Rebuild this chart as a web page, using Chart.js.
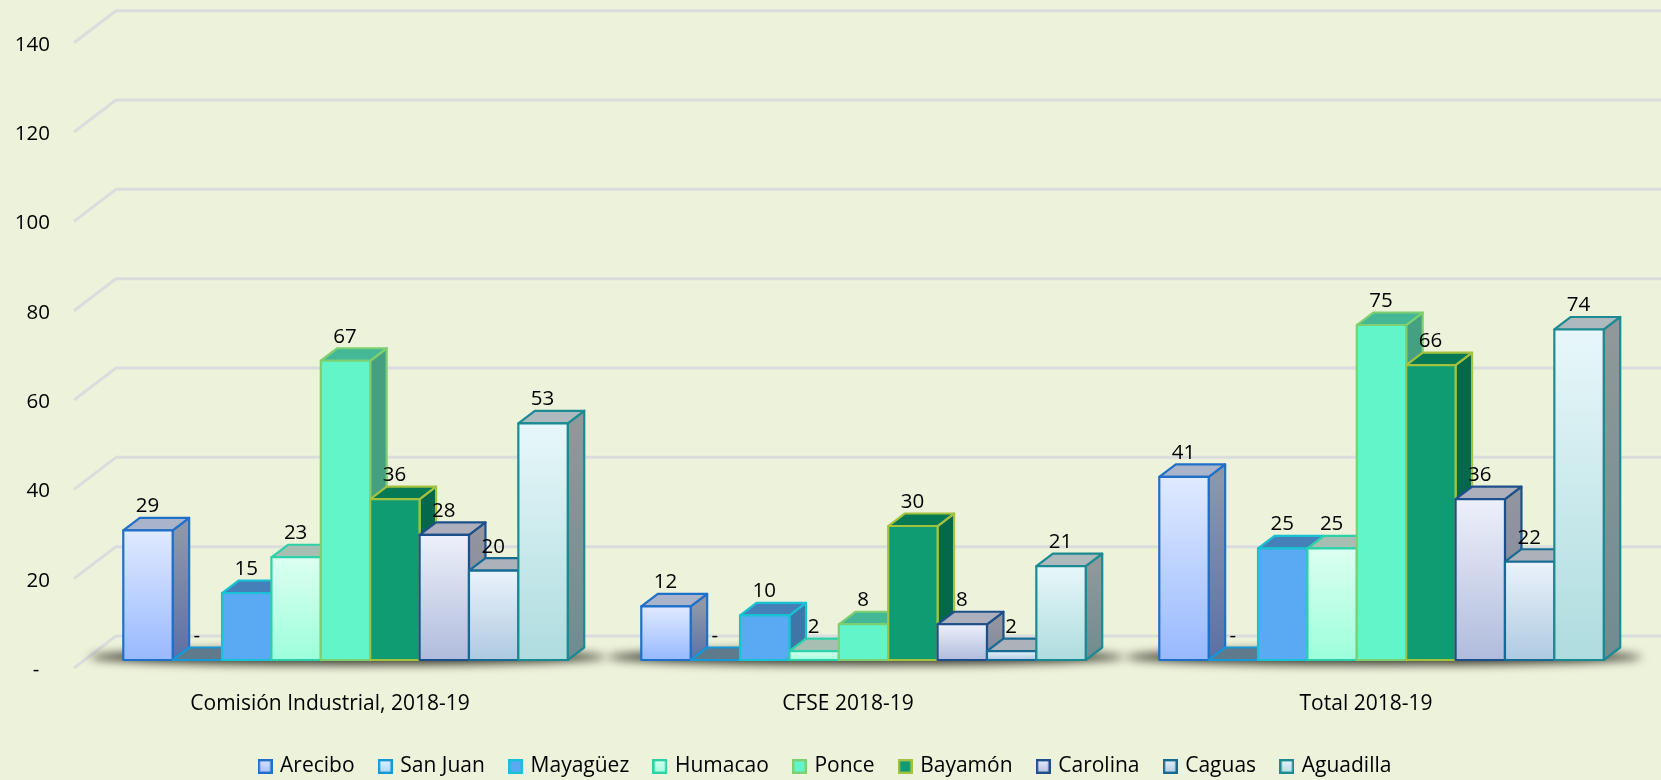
<!DOCTYPE html>
<html>
<head>
<meta charset="utf-8">
<style>
html,body{margin:0;padding:0;background:#edf2da;overflow:hidden}
#wrap{width:1661px;height:780px;position:relative}
canvas{filter:blur(0.5px)}
</style>
<script src="https://cdn.jsdelivr.net/npm/chart.js@4/dist/chart.umd.min.js"></script>
</head>
<body>
<div id="wrap"><canvas id="c" width="1661" height="780"></canvas></div>
<script>
const categories = ['Comisión Industrial, 2018-19', 'CFSE 2018-19', 'Total 2018-19'];
const seriesNames = ['Arecibo','San Juan','Mayagüez','Humacao','Ponce','Bayamón','Carolina','Caguas','Aguadilla'];
const arecibo  = [29, 12, 41];
const sanJuan  = [0, 0, 0];
const mayaguez = [15, 10, 25];
const humacao  = [23, 2, 25];
const ponce    = [67, 8, 75];
const bayamon  = [36, 30, 66];
const carolina = [28, 8, 36];
const caguas   = [20, 2, 22];
const aguadilla= [53, 21, 74];
const seriesValues = [arecibo, sanJuan, mayaguez, humacao, ponce, bayamon, carolina, caguas, aguadilla];

const FONT = '"Open Sans", sans-serif';
const FS = 21, FS_NUM = 20.5;
const looks = [
 {a:'#e0eaff',b:'#98b9ff',line:'#1f70c8',top:'#a9b3c9',s1:'#8e97a8',s2:'#5b70a6',lg1:'#dbe4ff',lg2:'#a3bdfa'},
 {a:'#e2f3ff',b:'#a4d8fb',line:'#1597d8',top:'#5f7a8a',s1:'#6a8294',s2:'#4d6f8a',lg1:'#e2f3ff',lg2:'#a4d8fb'},
 {a:'#5aa9f3',b:'#5aa9f3',line:'#16c2d4',top:'#4580b8',s1:'#3f76a8',s2:'#3f76a8',lg1:'#5aa9f3',lg2:'#5aa9f3'},
 {a:'#dcfff1',b:'#9cffdc',line:'#2bd2a8',top:'#a6bfb2',s1:'#8fa89e',s2:'#7a9a8c',lg1:'#dcfff1',lg2:'#9cffdc'},
 {a:'#62f5c9',b:'#62f5c9',line:'#7ecf70',top:'#44b896',s1:'#44a081',s2:'#44a081',lg1:'#62f5c9',lg2:'#62f5c9'},
 {a:'#0f9c73',b:'#0f9c73',line:'#a3c23e',top:'#067a55',s1:'#05684a',s2:'#05684a',lg1:'#0f9c73',lg2:'#0f9c73'},
 {a:'#edf0fa',b:'#b0bcdc',line:'#1d4f8a',top:'#adb0bc',s1:'#92959f',s2:'#80869a',lg1:'#edf0fa',lg2:'#b0bcdc'},
 {a:'#ebf2fb',b:'#aecae1',line:'#166b95',top:'#adb1ba',s1:'#92979f',s2:'#80909c',lg1:'#ebf2fb',lg2:'#aecae1'},
 {a:'#e8f7f9',b:'#aedcdf',line:'#1c8a92',top:'#adb9bc',s1:'#90989a',s2:'#6f8c90',lg1:'#e8f7f9',lg2:'#aedcdf'}
];

/* depth of the floor and of the bars, in pixels */
const GRID_DX = 42, GRID_DY = -32;
const BAR_SHIFT_X = 12.5, BAR_SHIFT_Y = -8;
const DEPTH_X = 16.5, DEPTH_Y = -12.5;

function legendSwatch(l){
  const cv = document.createElement('canvas'); cv.width = 15; cv.height = 15;
  const g = cv.getContext('2d');
  const gr = g.createLinearGradient(0,0,0,15);
  gr.addColorStop(0,l.lg1); gr.addColorStop(1,l.lg2);
  g.fillStyle = gr; g.fillRect(0,0,15,15);
  g.strokeStyle = l.line; g.lineWidth = 2.4; g.strokeRect(1.2,1.2,12.6,12.6);
  return cv;
}

function poly(ctx, pts, fill, line){
  ctx.beginPath();
  pts.forEach((p,i)=> i?ctx.lineTo(p[0],p[1]):ctx.moveTo(p[0],p[1]));
  ctx.closePath();
  ctx.fillStyle = fill; ctx.fill();
  ctx.strokeStyle = line; ctx.stroke();
}

const scene = {
  id:'scene',
  afterLayout(chart){
    const lg = chart.legend;
    const h = lg.height;
    lg.top = 770 - 14 - lg.options.labels.padding;
    lg.bottom = lg.top + h;
    lg.left = 0; lg.right = 1652;
  },
  beforeDatasetsDraw(chart){
    const {ctx, scales:{x,y}} = chart;
    const edge = chart.width;
    ctx.save();
    ctx.strokeStyle = '#d9dddd'; ctx.lineWidth = 3; ctx.lineJoin='round';
    y.ticks.forEach(t=>{
      const py = y.getPixelForValue(t.value);
      ctx.beginPath();
      ctx.moveTo(x.left, py);
      ctx.lineTo(x.left + GRID_DX, py + GRID_DY);
      ctx.lineTo(edge, py + GRID_DY);
      ctx.stroke();
    });
    /* soft shadow under each cluster */
    const first = chart.getDatasetMeta(0).data, last = chart.getDatasetMeta(seriesNames.length-1).data;
    first.forEach((el,i)=>{
      const l = el.x - el.width/2 + BAR_SHIFT_X - 34;
      const r = last[i].x + last[i].width/2 + BAR_SHIFT_X + 38;
      const b = el.base + BAR_SHIFT_Y;
      ctx.save();
      ctx.filter = 'blur(5px)';
      ctx.fillStyle = 'rgba(50,50,38,0.95)';
      ctx.beginPath();
      ctx.ellipse((l+r)/2, b-3, (r-l)/2, 8, 0, 0, Math.PI*2);
      ctx.fill();
      ctx.restore();
    });
    ctx.restore();
  },
  beforeDatasetDraw(){ return false; },
  afterDatasetsDraw(chart){
    const {ctx} = chart;
    ctx.save();
    ctx.lineWidth = 2.2; ctx.lineJoin = 'round';
    /* painted left to right so each bar covers its neighbour's side */
    seriesNames.forEach((n, d)=>{
      const look = looks[d];
      chart.getDatasetMeta(d).data.forEach(el=>{
        const x0 = el.x - el.width/2 + BAR_SHIFT_X, x1 = x0 + el.width;
        const yt = el.y + BAR_SHIFT_Y, yb = el.base + BAR_SHIFT_Y;
        const side = ctx.createLinearGradient(0, yt, 0, yb);
        side.addColorStop(0, look.s1); side.addColorStop(1, look.s2);
        poly(ctx, [[x1,yt],[x1+DEPTH_X,yt+DEPTH_Y],[x1+DEPTH_X,yb+DEPTH_Y],[x1,yb]], side, look.line);
        poly(ctx, [[x0,yt],[x0+DEPTH_X,yt+DEPTH_Y],[x1+DEPTH_X,yt+DEPTH_Y],[x1,yt]], look.top, look.line);
        if (yb - yt > 0.5){
          const face = ctx.createLinearGradient(0, yt, 0, yb);
          face.addColorStop(0, look.a); face.addColorStop(1, look.b);
          poly(ctx, [[x0,yt],[x1,yt],[x1,yb],[x0,yb]], face, look.line);
        }
      });
    });
    ctx.font = FS_NUM + 'px ' + FONT;
    ctx.fillStyle = '#000';
    ctx.textAlign = 'center'; ctx.textBaseline = 'middle';
    seriesValues.forEach((vals, d)=>{
      chart.getDatasetMeta(d).data.forEach((el,i)=>{
        const txt = vals[i] === 0 ? '-' : String(vals[i]);
        ctx.fillText(txt, el.x + BAR_SHIFT_X - 0.5, el.y + BAR_SHIFT_Y - 24);
      });
    });
    ctx.restore();
  }
};

new Chart(document.getElementById('c'), {
  type:'bar',
  data:{
    labels: categories,
    datasets: seriesNames.map((name,i)=>({
      label:name,
      data: seriesValues[i],
      backgroundColor: looks[i].b,
      borderColor: looks[i].line,
      categoryPercentage: 0.858,
      barPercentage: 1
    }))
  },
  options:{
    responsive:false,
    animation:false,
    layout:{padding:{left:0,right:33,top:42.7,bottom:0}},
    scales:{
      x:{
        grid:{display:false,drawTicks:false},
        border:{display:false},
        ticks:{color:'#000',font:{family:FONT,size:FS},padding:23,maxRotation:0,labelOffset:-3},
        afterFit(s){ s.height = 112 - s.chart.legend.height; }
      },
      y:{
        min:0,max:140,
        grid:{display:false,drawTicks:false},
        border:{display:false},
        ticks:{
          stepSize:20,color:'#000',font:{family:FONT,size:FS_NUM},padding:24,labelOffset:2,
          callback:v=> v===0 ? '-  ' : String(v)
        },
        afterFit(s){ s.width = 74; }
      }
    },
    plugins:{
      tooltip:{enabled:false},
      legend:{
        position:'bottom',
        labels:{
          color:'#000',
          font:{family:FONT,size:FS},
          usePointStyle:true,
          pointStyleWidth:9,
          padding:26.2,
          generateLabels(chart){
            return seriesNames.map((n,i)=>({
              text:n,
              datasetIndex:i,
              pointStyle:legendSwatch(looks[i]),
              fontColor:'#000',
              lineWidth:0,
              hidden:false
            }));
          }
        }
      }
    }
  },
  plugins:[scene]
});
</script>
</body>
</html>
